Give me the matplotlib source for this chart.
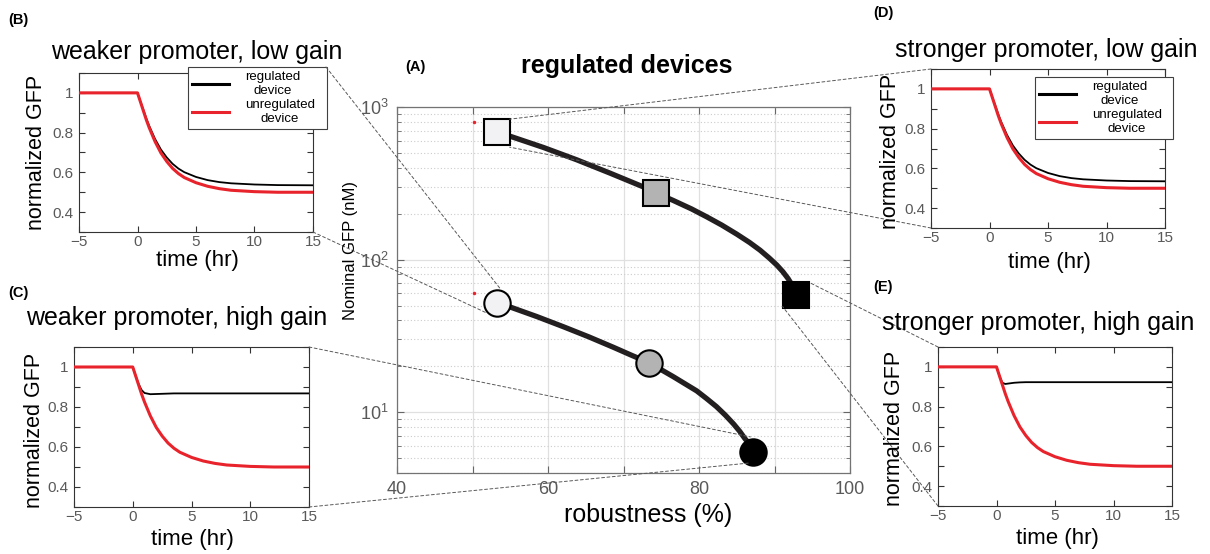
import numpy as np
import matplotlib
matplotlib.use("Agg")
import matplotlib.pyplot as plt
from matplotlib.patches import ConnectionPatch
from matplotlib.lines import Line2D
import matplotlib.transforms as mtransforms
from matplotlib.ticker import LogLocator, NullFormatter

plt.rcParams['font.family'] = ['Liberation Sans', 'DejaVu Sans']
plt.rcParams['mathtext.default'] = 'regular'

# ---------------- data ----------------
# centre panel (A): robustness (%) vs nominal GFP (nM)
square_x = [53.2, 74.3, 92.8]
square_y = [684, 273, 59]
circle_x = [53.2, 73.4, 87.2]
circle_y = [52, 21.1, 5.5]
marker_colors = ['#f2f2f4', '#b3b3b3', '#000000']

upper_curve_x = [53.2, 55.0, 59.4, 63.8, 68.2, 72.6, 74.3, 76.6, 79.0, 81.0, 83.0,
                 85.0, 86.7, 88.1, 89.3, 90.3, 91.1, 91.8, 92.3, 92.8]
upper_curve_y = [684, 643, 543, 451, 369, 300, 274, 244, 215, 191, 168.6,
                 146.9, 129.5, 115.2, 102.5, 92.2, 83.4, 75.1, 68.5, 59]
lower_curve_x = [53.2, 55.0, 58.5, 62.0, 65.4, 68.7, 71.0, 73.4, 76.6, 79.7, 81.0,
                 82.3, 83.5, 84.6, 85.4, 86.1, 86.6, 87.0, 87.2]
lower_curve_y = [52, 48.9, 42.4, 36.4, 31.2, 26.6, 23.7, 21.1, 17.1, 13.8, 12.3,
                 10.9, 9.56, 8.36, 7.49, 6.70, 6.27, 5.77, 5.5]

red_dot_x = [50.2, 50.2]
red_dot_y = [794, 60]

# time courses (insets B-E)
time_hr = [-5, 0, 0.25, 0.5, 0.75, 1, 1.5, 2, 2.5, 3, 3.5, 4, 5, 6, 7, 8, 10, 12, 15]
unregulated = [1, 1, 0.955, 0.91, 0.865, 0.825, 0.755, 0.698, 0.655, 0.62, 0.594,
               0.574, 0.548, 0.53, 0.518, 0.51, 0.503, 0.5, 0.5]
regulated_low_gain = [1, 1, 0.957, 0.915, 0.872, 0.834, 0.768, 0.715, 0.675, 0.643, 0.619,
                      0.601, 0.577, 0.561, 0.551, 0.545, 0.539, 0.536, 0.535]
regulated_high_gain_weak = [1, 1, 0.955, 0.915, 0.885, 0.87, 0.864, 0.865, 0.866, 0.867, 0.868,
                            0.868, 0.868, 0.868, 0.868, 0.868, 0.868, 0.868, 0.868]
regulated_high_gain_strong = [1, 1, 0.955, 0.92, 0.914, 0.916, 0.92, 0.922, 0.923, 0.923, 0.923,
                              0.923, 0.923, 0.923, 0.923, 0.923, 0.923, 0.923, 0.923]

titles = {'B': 'weaker promoter, low gain',
          'C': 'weaker promoter, high gain',
          'D': 'stronger promoter, low gain',
          'E': 'stronger promoter, high gain'}

# ---------------- figure ----------------
W, H = 1210, 554
fig = plt.figure(figsize=(W / 100, H / 100), dpi=100)


def px_axes(l, t, r, b):
    return fig.add_axes([l / W, 1 - b / H, (r - l) / W, (b - t) / H])


def ftext(x, y, s, **kw):
    return fig.text(x / W, 1 - y / H, s, **kw)


RED = '#e8232b'
DARK = '#231f20'

# ---- centre panel ----
ax = px_axes(397, 107, 850, 473)
ax.set_yscale('log')
ax.set_xlim(40, 100)
ax.set_ylim(4, 1000)
ax.set_xticks(np.arange(40, 101, 10))
ax.set_xticklabels(['40', '', '60', '', '80', '', '100'])
ax.yaxis.set_minor_locator(LogLocator(base=10, subs=np.arange(2, 10)))
ax.yaxis.set_minor_formatter(NullFormatter())
ax.grid(True, which='major', color='0.88', lw=0.9)
ax.grid(True, which='minor', axis='y', color='0.8', ls=(0, (1, 2)), lw=0.8)
ax.set_axisbelow(True)
ax.tick_params(which='both', direction='in', top=True, right=True,
               labelsize=13, labelcolor='0.35', color='0.4')
ax.tick_params(which='major', length=5, pad=6)
ax.tick_params(which='minor', length=3)
for s in ax.spines.values():
    s.set_color('0.45')
    s.set_linewidth(0.9)

ax.plot(upper_curve_x, upper_curve_y, color=DARK, lw=3.8, solid_capstyle='round',
        solid_joinstyle='round', zorder=3)
ax.plot(lower_curve_x, lower_curve_y, color=DARK, lw=3.8, solid_capstyle='round',
        solid_joinstyle='round', zorder=3)
for x, y, c in zip(square_x, square_y, marker_colors):
    ax.plot([x], [y], marker='s', ms=19, mfc=c, mec='k', mew=1.5, ls='none', zorder=4)
for x, y, c in zip(circle_x, circle_y, marker_colors):
    ax.plot([x], [y], marker='o', ms=19, mfc=c, mec='k', mew=1.5, ls='none', zorder=4)
ax.plot(red_dot_x, red_dot_y, 'o', color=RED, ms=1.5, ls='none', zorder=2)

ftext(627, 73, 'regulated devices', fontsize=18, fontweight='bold', ha='center', va='baseline')
ftext(405, 67, '(A)', fontsize=10.5, fontweight='bold', ha='left', va='center')
ftext(648, 515, 'robustness (%)', fontsize=18, ha='center', va='center')
ftext(350, 250, 'Nominal GFP (nM)', fontsize=12, rotation=90, ha='center', va='center')


# ---- insets ----
def make_inset(box, reg, key, title_xy, ylab_xy, xlab_xy, label_xy, legend_box=None):
    a = px_axes(*box)
    a.plot(time_hr, reg, color='k', lw=1.3, zorder=3)
    a.plot(time_hr, unregulated, color=RED, lw=2.2, zorder=4)
    a.set_xlim(-5, 15)
    a.set_ylim(0.3, 1.1)
    a.set_xticks([-5, 0, 5, 10, 15])
    yt = np.round(np.arange(0.3, 1.101, 0.1), 2)
    a.set_yticks(yt)
    a.set_yticklabels(['' if round(v * 10) % 2 else ('1' if v == 1 else f'{v:.1f}') for v in yt])
    a.tick_params(direction='in', top=True, right=True, length=4, labelsize=11,
                  labelcolor='0.35', color='0.2', pad=4)
    a.tick_params(axis='x', pad=2)
    for s in a.spines.values():
        s.set_color('0.2')
        s.set_linewidth(0.8)
    ftext(title_xy[0], title_xy[1], titles[key], fontsize=18, ha='center', va='baseline')
    ftext(ylab_xy[0], ylab_xy[1], 'normalized GFP', fontsize=15.5, rotation=90,
          ha='center', va='center')
    ftext(xlab_xy[0], xlab_xy[1], 'time (hr)', fontsize=16, ha='center', va='baseline')
    ftext(label_xy[0], label_xy[1], f'({key})', fontsize=10.5, fontweight='bold',
          ha='left', va='center')
    if legend_box is not None:
        l, t, r, b = legend_box
        handles = [Line2D([], [], color='k', lw=2.2), Line2D([], [], color=RED, lw=2.2)]
        leg = a.legend(handles, ['regulated\ndevice', 'unregulated\ndevice'],
                       loc='upper left', mode='expand',
                       bbox_to_anchor=(l / W, 1 - b / H, (r - l) / W, (b - t) / H),
                       bbox_transform=fig.transFigure, fontsize=9.5, frameon=True,
                       fancybox=False, edgecolor='0.25', framealpha=1,
                       borderpad=0.3, labelspacing=0.1, handlelength=2.8,
                       handletextpad=1.2, borderaxespad=0)
        leg.get_frame().set_linewidth(0.8)
        for txt in leg.get_texts():
            txt.set_multialignment('center')
            txt.set_linespacing(1.25)
        leg.set_zorder(10)
    return a


axB = make_inset((79, 73, 313, 232), regulated_low_gain, 'B',
                 (197, 59), (37, 152), (197, 266), (8, 20), legend_box=(188, 67, 327, 130))
axC = make_inset((74, 347, 309, 507), regulated_high_gain_weak, 'C',
                 (177, 325), (35, 430), (192, 545), (8, 293))
axD = make_inset((931, 69, 1165, 228), regulated_low_gain, 'D',
                 (1046, 57), (890, 151), (1049, 268), (873, 13), legend_box=(1035, 77, 1173, 140))
axE = make_inset((938, 347, 1172, 506), regulated_high_gain_strong, 'E',
                 (1038, 330), (895, 428), (1057, 544), (873, 287))


# ---- dashed connector lines ----
def connect(inset_ax, frac, x, y, off_px):
    trans = ax.transData + mtransforms.ScaledTranslation(off_px[0] / 100, -off_px[1] / 100,
                                                         fig.dpi_scale_trans)
    con = ConnectionPatch(xyA=frac, coordsA='axes fraction', axesA=inset_ax,
                          xyB=(x, y), coordsB=trans,
                          color='0.35', lw=0.7, ls=(0, (3, 2.5)))
    fig.add_artist(con)


connect(axB, ((326 - 79) / 234, (232 - 67) / 159), circle_x[0], circle_y[0], (3, -15))
connect(axB, (1, 0), circle_x[0], circle_y[0], (-10, 10))
connect(axC, (1, 1), circle_x[2], circle_y[2], (-3, -15))
connect(axC, (1, 0), circle_x[2], circle_y[2], (-3, 11))
connect(axD, (0, 1), square_x[0], square_y[0], (13, -13))
connect(axD, (0, 0), square_x[0], square_y[0], (13, 15))
connect(axE, (0, 1), square_x[2], square_y[2], (14, -12))
connect(axE, (0, 0), square_x[2], square_y[2], (-13, 12))

fig.savefig('out.png', dpi=100)
